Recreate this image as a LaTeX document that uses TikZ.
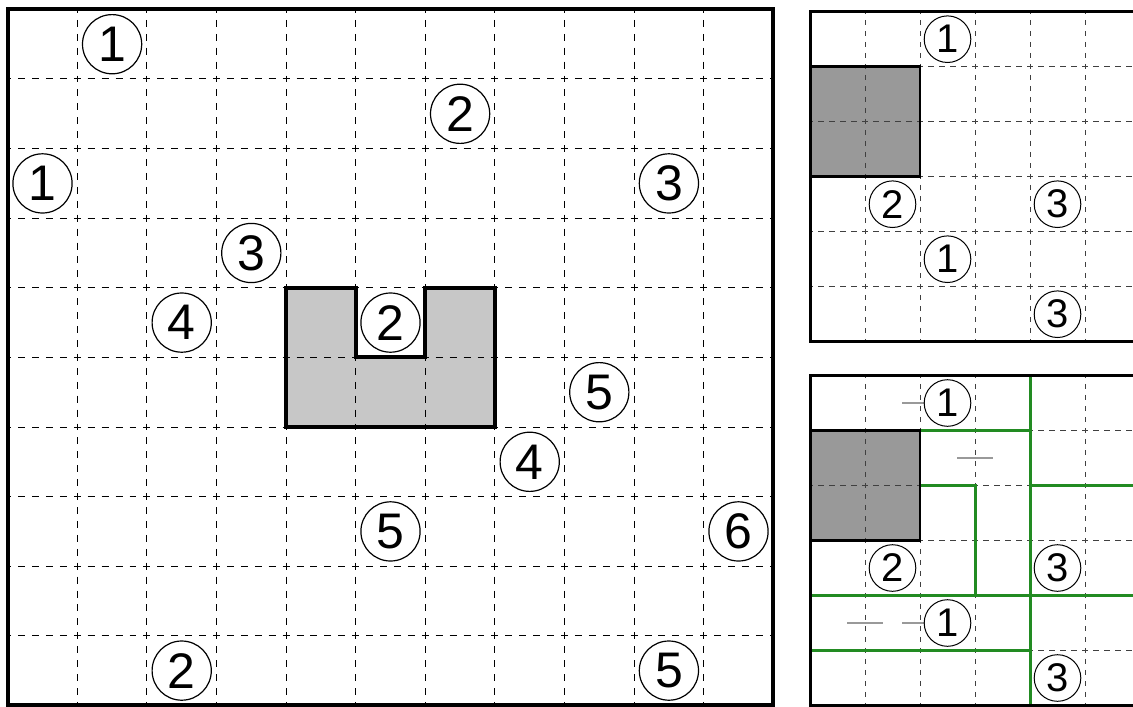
\documentclass[tikz,border=0pt]{standalone}
\usepackage{fontspec}
\setmainfont{Liberation Sans}
\usetikzlibrary{positioning,calc}
\definecolor{wallgreen}{RGB}{34,139,34}

\tikzset{
  bigclue/.style={circle, draw, line width=0.6pt, fill=white, inner sep=0pt,
    minimum size=29.6pt, font=\fontsize{25}{25}\selectfont},
  smallclue/.style={circle, draw, line width=0.5pt, fill=white, inner sep=0pt,
    minimum size=23.3pt, font=\fontsize{20}{20}\selectfont},
  bigdash/.style={line width=0.5pt, dash pattern=on 3.48pt off 3.48pt, dash phase=1.74pt},
  smalldash/.style={line width=0.45pt, black!75, dash pattern=on 2.75pt off 2.75pt, dash phase=1.375pt},
  wall/.style={line width=1.5pt, wallgreen},
  nowall/.style={line width=1pt, black!40},
}

\begin{document}
\begin{tikzpicture}
    \useasboundingbox (0,0) rectangle (566.5pt,-353pt);
    % Big puzzle, 11 x 10
    \begin{scope}[xshift=3.85pt, yshift=-4.7pt, x=34.8pt, y=-34.8pt]
        \fill[black!22] (4,4) -- (5,4) -- (5,5) -- (6,5) -- (6,4) -- (7,4) -- (7,6) -- (4,6) -- cycle;
        \foreach \i in {1,...,10} \draw[bigdash] (\i,0) -- (\i,10);
        \foreach \i in {1,...,9} \draw[bigdash] (0,\i) -- (11,\i);
        \draw[line width=2pt, line join=miter] (4,4) -- (5,4) -- (5,5) -- (6,5) -- (6,4) -- (7,4) -- (7,6) -- (4,6) -- cycle;
        \draw[line width=2pt] (0,0) rectangle (11,10);
        % Clues
        \foreach \c/\r/\n [count=\k] in {1/0/1, 6/1/2, 0/2/1, 9/2/3, 3/3/3, 2/4/4, 5/4/2,
                                         8/5/5, 7/6/4, 5/7/5, 10/7/6, 2/9/2, 9/9/5}
            \node[bigclue] (big\k) at (\c+0.5,\r+0.5) {\n};
    \end{scope}
    % Small puzzle
    \begin{scope}[xshift=405pt, yshift=-5.85pt, x=27.5pt, y=-27.5pt]
        \fill[black!40] (0,1) rectangle (2,3);
        \foreach \i in {1,...,5} {
            \draw[smalldash] (\i,0) -- (\i,6);
            \draw[smalldash] (0,\i) -- (6,\i);
        }
        \draw[line width=1.3pt] (0,1) rectangle (2,3);
        \draw[line width=1.5pt] (0,0) rectangle (6,6);
        \foreach \c/\r/\n [count=\k] in {2/0/1, 1/3/2, 4/3/3, 2/4/1, 4/5/3}
            \node[smallclue] (top\k) at (\c+0.5,\r+0.5) {\n};
    \end{scope}
    % Small puzzle, partly solved
    \begin{scope}[xshift=405pt, yshift=-187.75pt, x=27.5pt, y=-27.5pt]
        \fill[black!40] (0,1) rectangle (2,3);
        \foreach \i in {1,...,5} {
            \draw[smalldash] (\i,0) -- (\i,6);
            \draw[smalldash] (0,\i) -- (6,\i);
        }
        % Walls found so far
        \draw[wall] (4,0) -- (4,6);
        \draw[wall] (2,1) -- (4,1);
        \draw[wall] (2,2) -- (3,2) -- (3,4);
        \draw[wall] (4,2) -- (6,2);
        \draw[wall] (0,4) -- (6,4);
        \draw[wall] (0,5) -- (4,5);
        % No wall here
        \foreach \c/\r in {2/0.5, 3/1.5, 1/4.5, 2/4.5}
            \draw[nowall] (\c-0.32,\r) -- (\c+0.32,\r);
        \draw[line width=1.3pt] (0,1) rectangle (2,3);
        \draw[line width=1.5pt] (0,0) rectangle (6,6);
        \foreach \c/\r/\n [count=\k] in {2/0/1, 1/3/2, 4/3/3, 2/4/1, 4/5/3}
            \node[smallclue] (bot\k) at (\c+0.5,\r+0.5) {\n};
    \end{scope}
\end{tikzpicture}
\end{document}
